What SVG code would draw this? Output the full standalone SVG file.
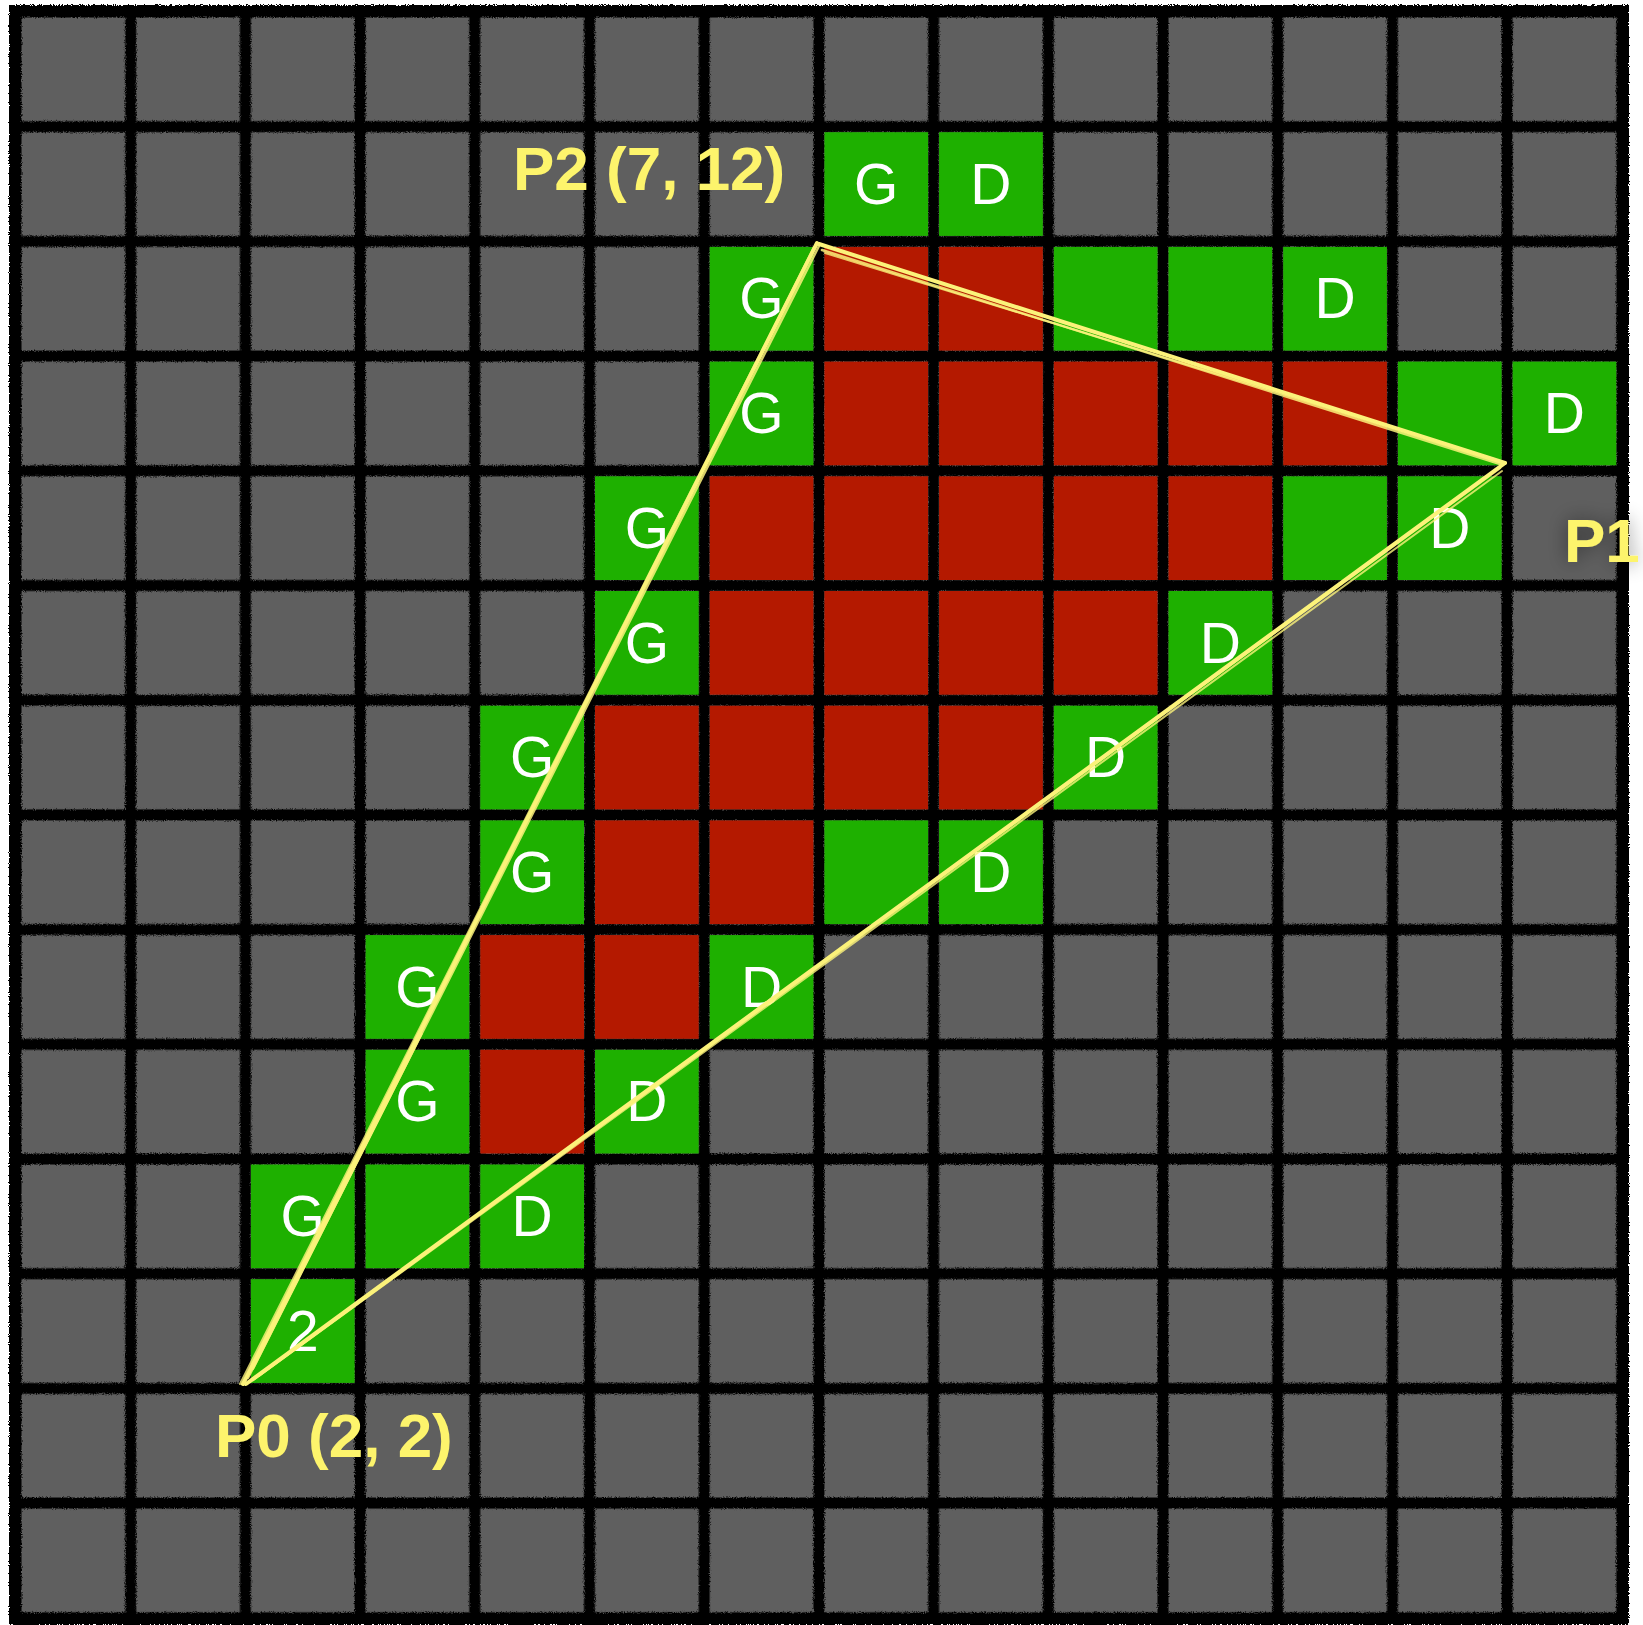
<svg xmlns="http://www.w3.org/2000/svg" width="1643" height="1625" viewBox="0 0 1643 1625">
<defs>
<style>
.g{fill:#1eb000}
.r{fill:#b41900}
.lbl{font-family:"Liberation Sans",Arial,Helvetica,sans-serif;font-size:57px;fill:#ffffff;text-anchor:middle}
.pt{font-family:"Liberation Sans",Arial,Helvetica,sans-serif;font-size:62px;font-weight:bold;fill:#fdf46c}
.e{fill:none;stroke:#fbf27a;stroke-linecap:round}
</style>
<pattern id="grid" patternUnits="userSpaceOnUse" x="16" y="12" width="114.7" height="114.7">
<rect width="114.7" height="114.7" fill="#000"/>
<rect x="5.5" y="5.5" width="103.7" height="103.7" fill="#5e5e5e"/>
</pattern>
<filter id="rough" x="-2%" y="-2%" width="104%" height="104%">
<feTurbulence type="fractalNoise" baseFrequency="0.9" numOctaves="2" seed="3" result="n"/>
<feDisplacementMap in="SourceGraphic" in2="n" scale="4" xChannelSelector="R" yChannelSelector="G"/>
</filter>
<filter id="glow" x="-50%" y="-50%" width="200%" height="200%">
<feGaussianBlur in="SourceAlpha" stdDeviation="10" result="b"/>
<feFlood flood-color="#000" flood-opacity="0.45"/>
<feComposite in2="b" operator="in" result="s"/>
<feMerge><feMergeNode in="s"/><feMergeNode in="SourceGraphic"/></feMerge>
</filter>
</defs>
<rect width="1643" height="1625" fill="#fff"/>
<g id="grid-bg" filter="url(#rough)">
<rect x="9" y="5" width="1620" height="1620" fill="#000"/>
<rect x="16" y="12" width="1605.8" height="1605.8" fill="url(#grid)"/>
</g>
<g id="cells">
<defs>
<rect id="cg" class="g" x="5.5" y="5.5" width="103.7" height="103.7"/>
<rect id="cr" class="r" x="5.5" y="5.5" width="103.7" height="103.7"/>
</defs>
<!-- row 1 -->
<g id="c1-7" transform="translate(818.9,126.7)"><use href="#cg"/><text class="lbl" x="57.35" y="77">G</text></g>
<g id="c1-8" transform="translate(933.6,126.7)"><use href="#cg"/><text class="lbl" x="57.35" y="77">D</text></g>
<!-- row 2 -->
<g id="c2-6" transform="translate(704.2,241.4)"><use href="#cg"/><text class="lbl" x="57.35" y="77">G</text></g>
<g id="c2-7" transform="translate(818.9,241.4)"><use href="#cr"/></g>
<g id="c2-8" transform="translate(933.6,241.4)"><use href="#cr"/></g>
<g id="c2-9" transform="translate(1048.3,241.4)"><use href="#cg"/></g>
<g id="c2-10" transform="translate(1163,241.4)"><use href="#cg"/></g>
<g id="c2-11" transform="translate(1277.7,241.4)"><use href="#cg"/><text class="lbl" x="57.35" y="77">D</text></g>
<!-- row 3 -->
<g id="c3-6" transform="translate(704.2,356.1)"><use href="#cg"/><text class="lbl" x="57.35" y="77">G</text></g>
<g id="c3-7" transform="translate(818.9,356.1)"><use href="#cr"/></g>
<g id="c3-8" transform="translate(933.6,356.1)"><use href="#cr"/></g>
<g id="c3-9" transform="translate(1048.3,356.1)"><use href="#cr"/></g>
<g id="c3-10" transform="translate(1163,356.1)"><use href="#cr"/></g>
<g id="c3-11" transform="translate(1277.7,356.1)"><use href="#cr"/></g>
<g id="c3-12" transform="translate(1392.4,356.1)"><use href="#cg"/></g>
<g id="c3-13" transform="translate(1507.1,356.1)"><use href="#cg"/><text class="lbl" x="57.35" y="77">D</text></g>
<!-- row 4 -->
<g id="c4-5" transform="translate(589.5,470.8)"><use href="#cg"/><text class="lbl" x="57.35" y="77">G</text></g>
<g id="c4-6" transform="translate(704.2,470.8)"><use href="#cr"/></g>
<g id="c4-7" transform="translate(818.9,470.8)"><use href="#cr"/></g>
<g id="c4-8" transform="translate(933.6,470.8)"><use href="#cr"/></g>
<g id="c4-9" transform="translate(1048.3,470.8)"><use href="#cr"/></g>
<g id="c4-10" transform="translate(1163,470.8)"><use href="#cr"/></g>
<g id="c4-11" transform="translate(1277.7,470.8)"><use href="#cg"/></g>
<g id="c4-12" transform="translate(1392.4,470.8)"><use href="#cg"/><text class="lbl" x="57.35" y="77">D</text></g>
<!-- row 5 -->
<g id="c5-5" transform="translate(589.5,585.5)"><use href="#cg"/><text class="lbl" x="57.35" y="77">G</text></g>
<g id="c5-6" transform="translate(704.2,585.5)"><use href="#cr"/></g>
<g id="c5-7" transform="translate(818.9,585.5)"><use href="#cr"/></g>
<g id="c5-8" transform="translate(933.6,585.5)"><use href="#cr"/></g>
<g id="c5-9" transform="translate(1048.3,585.5)"><use href="#cr"/></g>
<g id="c5-10" transform="translate(1163,585.5)"><use href="#cg"/><text class="lbl" x="57.35" y="77">D</text></g>
<!-- row 6 -->
<g id="c6-4" transform="translate(474.8,700.2)"><use href="#cg"/><text class="lbl" x="57.35" y="77">G</text></g>
<g id="c6-5" transform="translate(589.5,700.2)"><use href="#cr"/></g>
<g id="c6-6" transform="translate(704.2,700.2)"><use href="#cr"/></g>
<g id="c6-7" transform="translate(818.9,700.2)"><use href="#cr"/></g>
<g id="c6-8" transform="translate(933.6,700.2)"><use href="#cr"/></g>
<g id="c6-9" transform="translate(1048.3,700.2)"><use href="#cg"/><text class="lbl" x="57.35" y="77">D</text></g>
<!-- row 7 -->
<g id="c7-4" transform="translate(474.8,814.9)"><use href="#cg"/><text class="lbl" x="57.35" y="77">G</text></g>
<g id="c7-5" transform="translate(589.5,814.9)"><use href="#cr"/></g>
<g id="c7-6" transform="translate(704.2,814.9)"><use href="#cr"/></g>
<g id="c7-7" transform="translate(818.9,814.9)"><use href="#cg"/></g>
<g id="c7-8" transform="translate(933.6,814.9)"><use href="#cg"/><text class="lbl" x="57.35" y="77">D</text></g>
<!-- row 8 -->
<g id="c8-3" transform="translate(360.1,929.6)"><use href="#cg"/><text class="lbl" x="57.35" y="77">G</text></g>
<g id="c8-4" transform="translate(474.8,929.6)"><use href="#cr"/></g>
<g id="c8-5" transform="translate(589.5,929.6)"><use href="#cr"/></g>
<g id="c8-6" transform="translate(704.2,929.6)"><use href="#cg"/><text class="lbl" x="57.35" y="77">D</text></g>
<!-- row 9 -->
<g id="c9-3" transform="translate(360.1,1044.3)"><use href="#cg"/><text class="lbl" x="57.35" y="77">G</text></g>
<g id="c9-4" transform="translate(474.8,1044.3)"><use href="#cr"/></g>
<g id="c9-5" transform="translate(589.5,1044.3)"><use href="#cg"/><text class="lbl" x="57.35" y="77">D</text></g>
<!-- row 10 -->
<g id="c10-2" transform="translate(245.4,1159)"><use href="#cg"/><text class="lbl" x="57.35" y="77">G</text></g>
<g id="c10-3" transform="translate(360.1,1159)"><use href="#cg"/></g>
<g id="c10-4" transform="translate(474.8,1159)"><use href="#cg"/><text class="lbl" x="57.35" y="77">D</text></g>
<!-- row 11 -->
<g id="c11-2" transform="translate(245.4,1273.7)"><use href="#cg"/><text class="lbl" x="57.35" y="77">2</text></g>
</g>
<g id="connectors">
<!-- P0 to P2 -->
<path class="e" stroke-width="4" d="M243,1384 L817,243"/>
<path class="e" stroke-width="2.5" opacity="0.85" d="M248,1378 L819,246"/>
<path class="e" stroke-width="2" opacity="0.8" d="M240,1384 L814,247"/>
<path class="e" stroke-width="5" opacity="0.9" d="M252,1368 L420,1034"/>
<!-- P2 to P1 -->
<path class="e" stroke-width="4" d="M819,244 L1505,463"/>
<path class="e" stroke-width="2.5" opacity="0.85" d="M822,250 L1500,464"/>
<path class="e" stroke-width="2" opacity="0.8" d="M825,253 L1494,459"/>
<!-- P1 to P0 -->
<path class="e" stroke-width="4" d="M1505,463 L246,1384"/>
<path class="e" stroke-width="2.5" opacity="0.85" d="M1500,468 L253,1380"/>
<path class="e" stroke-width="2" opacity="0.8" d="M1502,471 L259,1376"/>
</g>
<g id="P2"><text class="pt" x="513" y="190">P2 (7, 12)</text></g>
<g id="P0"><text class="pt" x="215" y="1457">P0 (2, 2)</text></g>
<g id="P1" filter="url(#glow)"><text class="pt" x="1564" y="562">P1</text></g>
</svg>
